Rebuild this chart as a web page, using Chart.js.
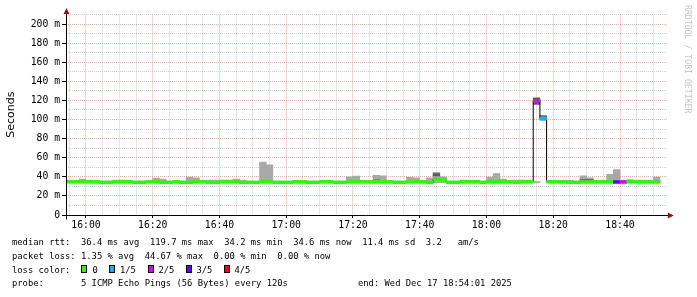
<!DOCTYPE html>
<html>
<head>
<meta charset="utf-8">
<script src="https://cdn.jsdelivr.net/npm/chart.js@4.4.1/dist/chart.umd.min.js"></script>
<style>
  html, body { margin: 0; padding: 0; background: #fff; }
  #wrap { position: relative; width: 697px; height: 297px; overflow: hidden; }
  #c { position: absolute; left: 0; top: 0; }
  .leg { position: absolute; font-family: 'DejaVu Sans Mono', monospace; font-size: 8.82px;
         line-height: 14px; white-space: pre; color: #000; }
  .box { position: absolute; top: 265px; width: 4px; height: 6px; border: 1px solid #000; }
  #mark { position: absolute; left: 692px; top: 5px; transform-origin: 0 0; transform: rotate(90deg);
          font-family: 'DejaVu Sans Mono', monospace; font-size: 8.2px; line-height: 9px;
          color: #c4c4c4; white-space: pre; }
</style>
</head>
<body>
<div id="wrap">
  <canvas id="c" width="697" height="297"></canvas>
  <div id="mark">RRDTOOL / TOBI OETIKER</div>
  <div class="leg" style="left:12px; top:234.5px">median rtt:  36.4 ms avg  119.7 ms max  34.2 ms min  34.6 ms now  11.4 ms sd  3.2   am/s</div>
  <div class="leg" style="left:12px; top:248.5px">packet loss: 1.35 % avg  44.67 % max  0.00 % min  0.00 % now</div>
  <div class="leg" style="left:12px; top:262.5px">loss color:</div>
  <span class="box" style="left:81px; background:#26ff00"></span><div class="leg" style="left:92.5px; top:262.5px">0</div>
  <span class="box" style="left:109px; background:#00b8ff"></span><div class="leg" style="left:120px; top:262.5px">1/5</div>
  <span class="box" style="left:147.5px; background:#dd00ff"></span><div class="leg" style="left:158.5px; top:262.5px">2/5</div>
  <span class="box" style="left:186px; background:#5e00ff"></span><div class="leg" style="left:196.5px; top:262.5px">3/5</div>
  <span class="box" style="left:224px; background:#ff0000"></span><div class="leg" style="left:234.5px; top:262.5px">4/5</div>
  <div class="leg" style="left:12px; top:276.3px">probe:       5 ICMP Echo Pings (56 Bytes) every 120s</div>
  <div class="leg" style="left:358px; top:276.3px">end: Wed Dec 17 18:54:01 2025</div>
</div>
<script>
// 2 minute steps, start time of each step
var times = [
  '15:54','15:56','15:58',
  '16:00','16:02','16:04','16:06','16:08','16:10','16:12','16:14','16:16','16:18',
  '16:20','16:22','16:24','16:26','16:28','16:30','16:32','16:34','16:36','16:38',
  '16:40','16:42','16:44','16:46','16:48','16:50','16:52','16:54','16:56','16:58',
  '17:00','17:02','17:04','17:06','17:08','17:10','17:12','17:14','17:16','17:18',
  '17:20','17:22','17:24','17:26','17:28','17:30','17:32','17:34','17:36','17:38',
  '17:40','17:42','17:44','17:46','17:48','17:50','17:52','17:54','17:56','17:58',
  '18:00','18:02','18:04','18:06','18:08','18:10','18:12','18:14','18:16','18:18',
  '18:20','18:22','18:24','18:26','18:28','18:30','18:32','18:34','18:36','18:38',
  '18:40','18:42','18:44','18:46','18:48','18:50'
];

// median rtt in ms
var median = [
  34.8, 34.8, 34.8,
  34.8, 34.8, 34.2, 34.2, 34.8, 34.8, 34.8, 34.2, 34.2, 34.8,
  34.8, 34.2, 34.2, 34.8, 34.2, 34.2, 34.8, 34.8, 34.2, 34.2,
  34.8, 34.8, 34.8, 34.2, 34.2, 34.2, 34.8, 34.8, 34.2, 34.2,
  34.2, 34.8, 34.8, 34.2, 34.2, 34.8, 34.8, 34.2, 34.2, 34.8,
  34.8, 34.8, 34.8, 34.8, 34.8, 34.8, 34.2, 34.2, 34.8, 34.8,
  34.8, 34.2, 37.6, 37.0, 34.2, 34.2, 34.8, 34.8, 34.8, 34.2,
  34.8, 34.8, 34.8, 34.8, 34.2, 34.8, 34.8, 119.7, 101.2, 34.8,
  34.8, 34.8, 34.2, 34.2, 34.6, 34.6, 34.8, 34.8, 34.8, 34.5,
  34.5, 34.8, 34.8, 34.8, 34.8, 34.6
];

// lost pings out of 5
var loss = [
  0, 0, 0,
  0, 0, 0, 0, 0, 0, 0, 0, 0, 0,
  0, 0, 0, 0, 0, 0, 0, 0, 0, 0,
  0, 0, 0, 0, 0, 0, 0, 0, 0, 0,
  0, 0, 0, 0, 0, 0, 0, 0, 0, 0,
  0, 0, 0, 0, 0, 0, 0, 0, 0, 0,
  0, 0, 0, 0, 0, 0, 0, 0, 0, 0,
  0, 0, 0, 0, 0, 0, 0, 2, 1, 0,
  0, 0, 0, 0, 0, 0, 0, 0, 0, 3,
  2, 0, 0, 0, 0, 0
];

// smoke (spread of the pings), ms
var smokeLow = [
  33.8, 33.8, 33.8,
  null, null, null, null, 33.8, 33.8, null, null, null, null,
  33.8, 33.8, null, null, null, 33.8, 33.8, null, 33.8, 33.8,
  33.8, 33.8, 33.8, 33.8, null, null, 33.8, 33.8, null, null,
  null, null, null, null, null, null, null, null, null, 33.8,
  33.8, 33.8, null, 33.8, 33.8, null, null, null, 33.8, 33.8,
  null, 33.8, 33.8, 33.8, null, null, 33.8, null, null, null,
  33.8, 33.8, 33.8, null, 33.8, 33.8, null, 33.5, null, null,
  null, 33.8, 33.8, null, 33.8, 33.8, null, null, 33.8, 33.8,
  33.8, 33.8, 33.8, null, null, 33.8
];
var smokeHigh = [
  36.4, 36.4, 37.7,
  null, null, null, null, 36.6, 36.6, null, null, null, null,
  38.7, 37.5, null, null, null, 39.8, 39.0, null, 36.6, 36.6,
  36.6, 36.6, 37.7, 36.6, null, null, 55.5, 52.5, null, null,
  null, null, null, null, null, null, null, null, null, 40.0,
  40.8, 36.0, null, 41.5, 41.0, null, null, null, 39.5, 39.0,
  null, 39.0, 44.8, 40.0, null, null, 36.6, null, null, null,
  39.8, 43.3, 37.7, null, 36.6, 36.6, null, 35.0, null, null,
  null, 36.2, 36.2, null, 41.0, 39.0, null, null, 42.5, 47.5,
  36.5, 37.0, 36.4, null, null, 39.8
];
// denser core of the smoke
var darkLow = {46: 35.6, 55: 41.0, 70: 115.8, 71: 99.3, 77: 35.6, 78: 35.6};
var darkHigh = {46: 36.8, 55: 43.5, 70: 122.8, 71: 104.2, 77: 37.0, 78: 37.0};

var xTickLabels = ['16:00', '16:20', '16:40', '17:00', '17:20', '17:40', '18:00', '18:20', '18:40'];
var rangeStart = '15:54:01', rangeEnd = '18:54:01';

var lossColors = ['#26ff00', '#00b8ff', '#dd00ff', '#5e00ff', '#ff0000'];

function toMin(s) {
  var p = s.split(':').map(Number);
  return p[0] * 60 + p[1] + (p[2] || 0) / 60;
}
function mid(i) { return toMin(times[i]) + 1; }

var smokeData = [], darkData = [], medData = [], lineData = [];
times.forEach(function (t, i) {
  if (smokeHigh[i] != null) smokeData.push({x: mid(i), y: [smokeLow[i], smokeHigh[i]]});
  if (darkHigh[i] != null) darkData.push({x: mid(i), y: [darkLow[i], darkHigh[i]]});
  medData.push({x: mid(i), y: [median[i] - 1.5, median[i] + 1.5], loss: loss[i]});
  lineData.push({x: mid(i), y: median[i]});
});

var majorGrid = 'rgba(230,100,100,0.55)';
var minorGrid = 'rgba(160,160,160,0.5)';
var monoFont = {family: 'DejaVu Sans Mono', size: 9.75};

var xTicks = [];
for (var m = Math.ceil(toMin(rangeStart) / 5) * 5; m < toMin(rangeEnd); m += 5) xTicks.push(m);
var xMajor = xTickLabels.map(toMin);

var axisDecor = {
  id: 'axisDecor',
  afterDraw: function (chart) {
    var ctx = chart.ctx, a = chart.chartArea;
    var x0 = Math.floor(a.left) + 0.5, y0 = Math.round(a.bottom) + 0.5;
    ctx.save();
    ctx.strokeStyle = '#000';
    ctx.lineWidth = 1;
    ctx.beginPath();
    ctx.moveTo(x0, 11); ctx.lineTo(x0, y0 + 4);
    ctx.moveTo(x0 - 4, y0); ctx.lineTo(a.right + 2, y0);
    ctx.stroke();
    ctx.fillStyle = '#9a1010';
    ctx.beginPath();
    ctx.moveTo(x0, 8); ctx.lineTo(x0 - 3, 14); ctx.lineTo(x0 + 3, 14); ctx.closePath();
    ctx.moveTo(a.right + 7, y0); ctx.lineTo(a.right + 1, y0 - 3); ctx.lineTo(a.right + 1, y0 + 3); ctx.closePath();
    ctx.fill();
    ctx.restore();
  }
};

var barCommon = {type: 'bar', grouped: false, barPercentage: 1, categoryPercentage: 1, borderWidth: 0};

new Chart(document.getElementById('c').getContext('2d'), {
  type: 'bar',
  data: {
    datasets: [
      Object.assign({label: 'smoke', data: smokeData, backgroundColor: '#a8a8a8', order: 4}, barCommon),
      Object.assign({label: 'smoke core', data: darkData, backgroundColor: '#5c5c5c', order: 3}, barCommon),
      {type: 'line', label: 'median step', data: lineData, stepped: 'middle', borderColor: '#000',
       borderWidth: 1, pointRadius: 0, fill: false, order: 2},
      Object.assign({label: 'median rtt', data: medData, order: 1,
        backgroundColor: function (c) { return lossColors[c.raw ? c.raw.loss : 0]; }}, barCommon)
    ]
  },
  options: {
    responsive: false,
    animation: false,
    events: [],
    layout: {padding: {left: 0, top: 14.45, right: 30.2, bottom: 0}},
    plugins: {legend: {display: false}, tooltip: {enabled: false}},
    scales: {
      x: {
        type: 'linear',
        min: toMin(rangeStart), max: toMin(rangeEnd),
        offset: false,
        afterBuildTicks: function (axis) { axis.ticks = xTicks.map(function (v) { return {value: v}; }); },
        afterFit: function (axis) { axis.height = 82; },
        grid: {
          offset: false,
          color: function (c) { return xMajor.indexOf(c.tick.value) >= 0 ? majorGrid : minorGrid; },
          tickColor: function (c) { return xMajor.indexOf(c.tick.value) >= 0 ? '#000' : 'rgba(0,0,0,0)'; },
          tickLength: 3
        },
        border: {display: false, dash: [1, 1]},
        ticks: {
          autoSkip: false, maxRotation: 0, padding: 2, color: '#000', font: monoFont,
          callback: function (v) { var k = xMajor.indexOf(v); return k >= 0 ? xTickLabels[k] : ''; }
        }
      },
      y: {
        min: 0, max: 210,
        afterFit: function (axis) { axis.width = 66; },
        grid: {
          color: function (c) {
            var v = c.tick.value;
            return v === 0 ? 'rgba(0,0,0,0)' : (v % 20 === 0 ? majorGrid : minorGrid);
          },
          tickColor: function (c) { return c.tick.value % 20 === 0 ? '#000' : 'rgba(0,0,0,0)'; },
          tickLength: 4
        },
        border: {display: false, dash: [1, 1]},
        title: {display: true, text: 'Seconds', color: '#000', padding: {top: 4.4, bottom: 0},
                font: {family: 'DejaVu Sans', size: 11}},
        ticks: {
          stepSize: 10, autoSkip: false, padding: 2, color: '#000', font: monoFont,
          callback: function (v) { return v % 20 !== 0 ? '' : (v === 0 ? '0' : v + ' m'); }
        }
      }
    }
  },
  plugins: [axisDecor]
});
</script>
</body>
</html>
